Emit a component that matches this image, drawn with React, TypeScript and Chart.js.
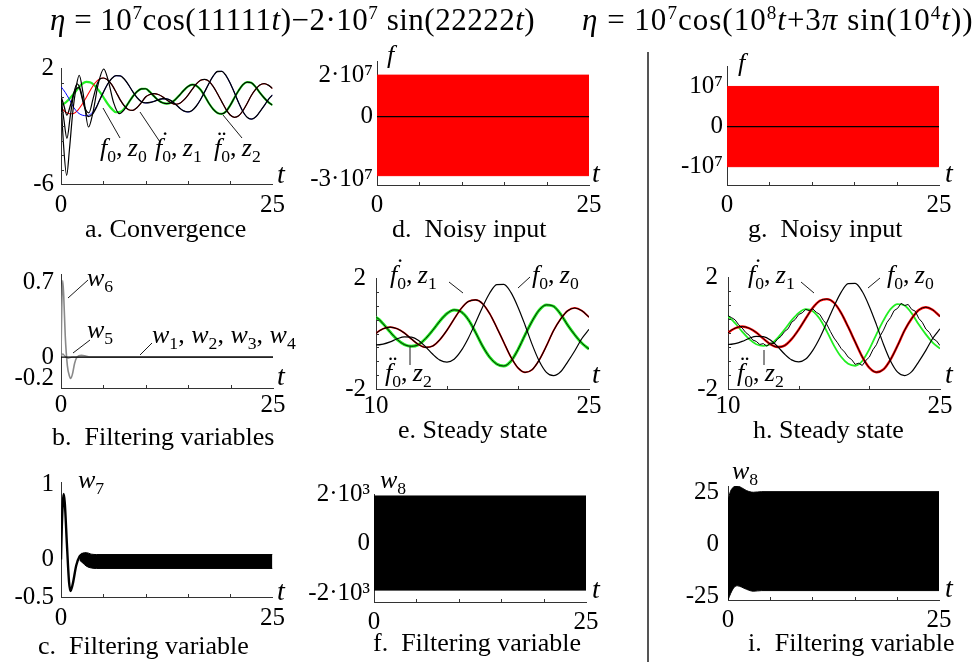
import React, { useEffect, useRef } from "react";
import { Chart, registerables } from "chart.js";

Chart.register(...registerables);

const SERIF = "'Liberation Serif', 'Times New Roman', Times, serif";
const AXIS = "#333";
const RED = "#ff0000";
const GREEN = "#22ee22";
const BLUE = "#0000ff";
const GRAY = "#8a8a8a";

// ---------- data ----------
// time grid, step 0.5
const T = [0, 0.5, 1, 1.5, 2, 2.5, 3, 3.5, 4, 4.5, 5, 5.5, 6, 6.5, 7, 7.5, 8, 8.5, 9, 9.5, 10, 10.5, 11, 11.5, 12, 12.5, 13, 13.5, 14, 14.5, 15, 15.5, 16, 16.5, 17, 17.5, 18, 18.5, 19, 19.5, 20, 20.5, 21, 21.5, 22, 22.5, 23, 23.5, 24, 24.5, 25];
// f0
const F0 = [0.71, 0.32, -0.18, -0.72, -1.08, -1.25, -1.29, -1.18, -0.85, -0.3, 0.32, 0.88, 1.28, 1.47, 1.46, 1.22, 0.82, 0.35, -0.05, -0.32, -0.41, -0.38, -0.3, -0.19, -0.12, -0.13, -0.25, -0.48, -0.75, -0.96, -1.03, -0.93, -0.62, -0.17, 0.38, 0.95, 1.45, 1.76, 1.77, 1.48, 0.95, 0.3, -0.4, -1.0, -1.4, -1.52, -1.38, -1.02, -0.62, -0.18, 0.15];
// first derivative of f0
const F1 = [-0.75, -1.02, -1.16, -1.14, -0.9, -0.5, -0.02, 0.5, 0.95, 1.23, 1.31, 1.18, 0.85, 0.35, -0.2, -0.62, -0.88, -0.92, -0.72, -0.38, 0.0, 0.17, 0.23, 0.17, 0.02, -0.2, -0.4, -0.5, -0.45, -0.22, 0.12, 0.52, 0.9, 1.15, 1.21, 1.08, 0.72, 0.22, -0.32, -0.85, -1.24, -1.4, -1.3, -0.95, -0.45, 0.1, 0.52, 0.82, 0.92, 0.82, 0.59];
// second derivative of f0
const F2 = [-0.55, -0.4, -0.12, 0.22, 0.58, 0.9, 1.04, 1.0, 0.78, 0.42, 0.0, -0.45, -0.82, -1.05, -1.03, -0.78, -0.38, 0.05, 0.38, 0.56, 0.57, 0.35, 0.05, -0.22, -0.4, -0.46, -0.4, -0.18, 0.12, 0.45, 0.72, 0.85, 0.78, 0.5, 0.05, -0.45, -0.85, -1.1, -1.17, -1.0, -0.58, -0.05, 0.45, 0.85, 1.03, 0.98, 0.7, 0.3, -0.05, -0.35, -0.56];

// transients of the observer (t, value), before they merge with f0, f0', f0''
const Z0_EARLY: [number, number][] = [[0, 0.05], [0.35, -0.6], [0.7, -1.25], [1.1, -0.6], [1.6, 0.4], [2.1, 0.65], [2.6, -0.3], [3.2, -1.35], [3.7, -1.2], [4.2, -0.7]];
const Z1_EARLY: [number, number][] = [[0, 0], [0.35, -1.6], [0.7, -2.85], [1.1, -1.3], [1.5, 0.2], [1.9, 0.9], [2.3, 0.5], [2.8, -0.7], [3.3, -1.1], [3.8, -0.1], [4.3, 0.95], [4.7, 1.28]];
const Z2_EARLY: [number, number][] = [[0, -0.1], [0.3, -3.3], [0.67, -5.4], [1.0, -3.6], [1.4, -1.0], [1.8, 0.7], [2.15, 1.5], [2.6, 0.3], [3.25, -2.07], [3.8, -1.0], [4.4, 0.9], [5.05, 1.93], [5.6, 1.1], [6.2, -0.35], [6.9, -1.15], [7.5, -0.85]];

// noisy estimate z2 of panel h, step 0.25
const TQ = [10, 10.25, 10.5, 10.75, 11, 11.25, 11.5, 11.75, 12, 12.25, 12.5, 12.75, 13, 13.25, 13.5, 13.75, 14, 14.25, 14.5, 14.75, 15, 15.25, 15.5, 15.75, 16, 16.25, 16.5, 16.75, 17, 17.25, 17.5, 17.75, 18, 18.25, 18.5, 18.75, 19, 19.25, 19.5, 19.75, 20, 20.25, 20.5, 20.75, 21, 21.25, 21.5, 21.75, 22, 22.25, 22.5, 22.75, 23, 23.25, 23.5, 23.75, 24, 24.25, 24.5, 24.75, 25];
const Z2H = [0.62, 0.55, 0.47, 0.3, 0.18, 0.02, -0.08, -0.25, -0.3, -0.41, -0.38, -0.47, -0.36, -0.38, -0.22, -0.12, 0.05, 0.15, 0.38, 0.48, 0.66, 0.72, 0.84, 0.8, 0.86, 0.74, 0.66, 0.45, 0.3, 0.05, -0.18, -0.35, -0.55, -0.68, -0.86, -0.95, -1.12, -1.08, -1.16, -0.98, -0.86, -0.6, -0.42, -0.12, 0.1, 0.38, 0.55, 0.8, 0.88, 1.06, 0.98, 1.02, 0.84, 0.78, 0.52, 0.38, 0.14, 0.02, -0.2, -0.28, -0.45];

// filtering variables
const W6: [number, number][] = [[0, 0], [0.08, 0.42], [0.2, 0.72], [0.32, 0.58], [0.5, 0.2], [0.75, -0.08], [1.0, -0.18], [1.15, -0.2], [1.35, -0.16], [1.6, -0.06], [1.9, 0.0], [2.4, 0.016], [2.9, 0.01], [3.5, 0.0], [25, 0]];
const W5: [number, number][] = [[0, 0], [0.2, 0.03], [0.45, 0.01], [0.8, -0.012], [1.3, 0.0], [25, 0]];
const W1_4: [number, number][] = [[0, 0], [25, 0]];
const W7: [number, number][] = [[0, 0], [0.1, 0.45], [0.32, 0.87], [0.45, 0.75], [0.7, 0.2], [0.95, -0.3], [1.12, -0.42], [1.4, -0.32], [1.8, -0.08], [2.2, 0.04], [2.6, 0.08]];
const W7_UP: [number, number][] = [[2.2, 0.02], [2.6, 0.085], [3.0, 0.09], [3.6, 0.07], [4.2, 0.065], [25, 0.065]];
const W7_LO: [number, number][] = [[2.2, -0.01], [2.6, -0.05], [3.0, -0.09], [3.6, -0.115], [4.2, -0.12], [25, -0.12]];
const W8F_UP: [number, number][] = [[0, 1920], [25, 1920]];
const W8F_LO: [number, number][] = [[0, -1880], [25, -1880]];
const W8I_UP: [number, number][] = [[0, 21], [0.3, 25.5], [0.7, 27.6], [1.1, 28], [1.6, 27.2], [2.2, 25.8], [3.0, 25.0], [4.0, 25.3], [25, 25.3]];
const W8I_LO: [number, number][] = [[0, -26.5], [0.3, -23.5], [0.7, -20.6], [1.1, -19.7], [1.6, -20.3], [2.2, -21.4], [3.0, -22.3], [4.0, -22.0], [25, -22.0]];

// noisy inputs (envelopes of the very fast signal) and the true signal
const ETA1_UP: [number, number][] = [[0, 2e7], [25, 2e7]];
const ETA1_LO: [number, number][] = [[0, -2.84e7], [25, -2.84e7]];
const ETA2_UP: [number, number][] = [[0, 1e7], [25, 1e7]];
const ETA2_LO: [number, number][] = [[0, -1e7], [25, -1e7]];
const F_ZERO: [number, number][] = [[0, 0], [25, 0]];

// tick labels
const X_TICKS_0_25: [number, string][] = [[0, "0"], [25, "25"]];
const X_TICKS_10_25: [number, string][] = [[10, "10"], [25, "25"]];
const X_MARKS_0_25 = [5, 10, 15, 20];
const X_MARKS_10_25 = [15, 20];

// ---------- helpers ----------
const pairs = (a: [number, number][]) => a.map(([x, y]) => ({ x, y }));
const pts = (xs: number[], ys: number[]) => xs.map((x, i) => ({ x, y: ys[i] }));
const joinAfter = (early: [number, number][], xs: number[], ys: number[]) => {
  const last = early[early.length - 1][0];
  return [...pairs(early), ...pts(xs, ys).filter((p) => p.x > last)];
};
const ln = (data: any[], color: string, width: number, extra: any = {}) => ({
  data,
  borderColor: color,
  borderWidth: width,
  pointRadius: 0,
  fill: false,
  cubicInterpolationMode: "monotone",
  ...extra,
});
const band = (up: [number, number][], lo: [number, number][], color: string) => [
  { data: pairs(up), borderColor: color, backgroundColor: color, borderWidth: 1, pointRadius: 0, fill: "+1", cubicInterpolationMode: "monotone" },
  { data: pairs(lo), borderColor: color, borderWidth: 1, pointRadius: 0, fill: false, cubicInterpolationMode: "monotone" },
];

const innerTicks = {
  id: "innerTicks",
  afterDraw(chart: any, _args: any, opts: any) {
    const { ctx, chartArea, scales } = chart;
    ctx.save();
    ctx.strokeStyle = AXIS;
    ctx.lineWidth = 1;
    (opts.x || []).forEach((v: number) => {
      const px = Math.round(scales.x.getPixelForValue(v)) + 0.5;
      ctx.beginPath();
      ctx.moveTo(px, chartArea.bottom);
      ctx.lineTo(px, chartArea.bottom - 3);
      ctx.stroke();
    });
    (opts.y || []).forEach((v: number) => {
      const py = Math.round(scales.y.getPixelForValue(v)) + 0.5;
      ctx.beginPath();
      ctx.moveTo(chartArea.left, py);
      ctx.lineTo(chartArea.left + 3, py);
      ctx.stroke();
    });
    ctx.restore();
  },
};

type Panel = {
  id: string;
  L: number; T: number; R: number; B: number;
  xMin: number; xMax: number; yMin: number; yMax: number;
  xTicks: [number, string][]; yTicks: [number, string][];
  xMarks: number[]; yMarks: number[];
  xPad: number; yPad: number; yW: number;
  datasets: any[];
};

const PAD_T = 18;
const PAD_R = 18;
const X_H = 44;

const lookup = (list: [number, string][], v: number) => {
  const f = list.find(([k]) => Math.abs(k - v) < 1e-6 * Math.max(1, Math.abs(k)));
  return f ? f[1] : "";
};

function PanelChart({ p }: { p: Panel }) {
  const ref = useRef<HTMLCanvasElement>(null);
  const W = p.yW + (p.R - p.L) + PAD_R;
  const H = PAD_T + (p.B - p.T) + X_H;
  useEffect(() => {
    const chart = new Chart(ref.current as HTMLCanvasElement, {
      type: "line",
      data: { datasets: p.datasets },
      options: {
        responsive: false,
        animation: false,
        devicePixelRatio: 1,
        events: [],
        layout: { padding: { top: PAD_T, right: PAD_R, left: 0, bottom: 0 } },
        plugins: {
          legend: { display: false },
          tooltip: { enabled: false },
          innerTicks: { x: p.xMarks, y: p.yMarks },
        } as any,
        scales: {
          x: {
            type: "linear",
            min: p.xMin,
            max: p.xMax,
            afterBuildTicks: (s: any) => {
              s.ticks = p.xTicks.map(([v]) => ({ value: v }));
            },
            afterFit: (s: any) => {
              s.height = X_H;
            },
            ticks: {
              autoSkip: false,
              maxRotation: 0,
              minRotation: 0,
              padding: p.xPad,
              color: "#000",
              font: { family: SERIF, size: 25 },
              callback: (v: any) => lookup(p.xTicks, Number(v)),
            },
            grid: { display: false, drawTicks: false },
            border: { display: true, color: AXIS, width: 1 },
          },
          y: {
            type: "linear",
            min: p.yMin,
            max: p.yMax,
            afterBuildTicks: (s: any) => {
              s.ticks = p.yTicks.map(([v]) => ({ value: v }));
            },
            afterFit: (s: any) => {
              s.width = p.yW;
            },
            ticks: {
              autoSkip: false,
              padding: p.yPad,
              color: "#000",
              font: { family: SERIF, size: 25 },
              callback: (v: any) => lookup(p.yTicks, Number(v)),
            },
            grid: { display: false, drawTicks: false },
            border: { display: true, color: AXIS, width: 1 },
          },
        },
      } as any,
      plugins: [innerTicks as any],
    });
    return () => chart.destroy();
  }, []);
  return (
    <canvas
      ref={ref}
      width={W}
      height={H}
      style={{ position: "absolute", left: p.L - p.yW, top: p.T - PAD_T, width: W, height: H }}
    />
  );
}

// ---------- text helpers ----------
const Txt = ({ x, base, size, children, style }: any) => (
  <div
    style={{
      position: "absolute",
      left: x,
      top: base - size * 0.8375,
      fontSize: size,
      lineHeight: 1,
      fontFamily: SERIF,
      whiteSpace: "nowrap",
      color: "#000",
      ...style,
    }}
  >
    {children}
  </div>
);
const Sub = ({ children }: any) => (
  <span style={{ fontSize: "0.68em", position: "relative", top: "0.32em", fontStyle: "normal" }}>{children}</span>
);
const Sup = ({ children }: any) => (
  <span style={{ fontSize: "0.62em", position: "relative", top: "-0.55em" }}>{children}</span>
);
const Fd = ({ n }: { n: number }) => (
  <span style={{ position: "relative", display: "inline-block" }}>
    <i>f</i>
    <span style={{ position: "absolute", left: n === 1 ? "0.22em" : "0.13em", top: "-0.28em", fontStyle: "normal" }}>
      {n === 1 ? "\u02D9" : "\u00A8"}
    </span>
  </span>
);
const Lbl = ({ d, k }: { d: number; k: number }) => (
  <>
    {d === 0 ? <i>f</i> : <Fd n={d} />}
    <Sub>0</Sub>
    {",\u2009"}
    <i>z</i>
    <Sub>{k}</Sub>
  </>
);
const Wn = ({ n }: { n: number }) => (
  <>
    <i>w</i>
    <Sub>{n}</Sub>
  </>
);

export default function App() {
  const z0 = joinAfter(Z0_EARLY, T, F0);
  const z1 = joinAfter(Z1_EARLY, T, F1);
  const z2 = joinAfter(Z2_EARLY, T, F2);
  const f0 = pts(T, F0);
  const f1 = pts(T, F1);
  const f2 = pts(T, F2);

  const panels: Panel[] = [
    {
      id: "a", L: 61, T: 64, R: 273, B: 184, xMin: 0, xMax: 25, yMin: -6, yMax: 2,
      xTicks: X_TICKS_0_25, yTicks: [[2, "2"], [-6, "-6"]], xMarks: X_MARKS_0_25, yMarks: [-5, -4, -3, -2, -1, 0, 1],
      xPad: 6, yPad: 7, yW: 58,
      datasets: [
        ln(z0, "#000", 1.3), ln(z1, "#000", 1.2), ln(z2, "#000", 1.2),
        ln(f0, BLUE, 1.0), ln(f1, RED, 1.1), ln(f2, GREEN, 2.2),
      ],
    },
    {
      id: "b", L: 61, T: 270, R: 273, B: 388, xMin: 0, xMax: 25, yMin: -0.291, yMax: 0.782,
      xTicks: X_TICKS_0_25, yTicks: [[0.7, "0.7"], [0, "0"], [-0.2, "-0.2"]], xMarks: X_MARKS_0_25, yMarks: [],
      xPad: 2.5, yPad: 7, yW: 58,
      datasets: [ln(pairs(W1_4), "#000", 1.2), ln(pairs(W6), GRAY, 1.6), ln(pairs(W5), GRAY, 1.3)],
    },
    {
      id: "c", L: 61, T: 478, R: 273, B: 597, xMin: 0, xMax: 25, yMin: -0.5, yMax: 1.03,
      xTicks: X_TICKS_0_25, yTicks: [[1, "1"], [0, "0"], [-0.5, "-0.5"]], xMarks: X_MARKS_0_25, yMarks: [],
      xPad: 6, yPad: 7, yW: 58,
      datasets: [ln(pairs(W7), "#000", 2.4), ...band(W7_UP, W7_LO, "#000")],
    },
    {
      id: "d", L: 377, T: 60, R: 589, B: 185, xMin: 0, xMax: 25, yMin: -3.29e7, yMax: 2.68e7,
      xTicks: X_TICKS_0_25, yTicks: [[2e7, "2·10⁷"], [0, "0"], [-3e7, "-3·10⁷"]], xMarks: X_MARKS_0_25, yMarks: [],
      xPad: 5, yPad: 4, yW: 80,
      datasets: [ln(pairs(F_ZERO), "#000", 1.2), ...band(ETA1_UP, ETA1_LO, RED)],
    },
    {
      id: "e", L: 376, T: 271, R: 589, B: 389, xMin: 10, xMax: 25, yMin: -2, yMax: 2,
      xTicks: X_TICKS_10_25, yTicks: [[2, "2"], [-2, "-2"]], xMarks: X_MARKS_10_25, yMarks: [-1.5, -1, -0.5, 0, 0.5, 1, 1.5],
      xPad: 2, yPad: 10, yW: 70,
      datasets: [
        ln(f0, "#000", 1.2), ln(z1, "#000", 1.1), ln(z2, "#000", 0.9),
        ln(f1, RED, 1.7), ln(f2, GREEN, 3.0),
      ],
    },
    {
      id: "f", L: 374, T: 493, R: 586, B: 602, xMin: 0, xMax: 25, yMin: -2360, yMax: 2000,
      xTicks: X_TICKS_0_25, yTicks: [[2000, "2·10³"], [0, "0"], [-2000, "-2·10³"]], xMarks: X_MARKS_0_25, yMarks: [],
      xPad: 5, yPad: 4, yW: 80,
      datasets: [...band(W8F_UP, W8F_LO, "#000")],
    },
    {
      id: "g", L: 727, T: 65, R: 939, B: 185, xMin: 0, xMax: 25, yMin: -1.457e7, yMax: 1.51e7,
      xTicks: X_TICKS_0_25, yTicks: [[1e7, "10⁷"], [0, "0"], [-1e7, "-10⁷"]], xMarks: X_MARKS_0_25, yMarks: [],
      xPad: 5, yPad: 4, yW: 70,
      datasets: [ln(pairs(F_ZERO), "#000", 1.2), ...band(ETA2_UP, ETA2_LO, RED)],
    },
    {
      id: "h", L: 728, T: 270, R: 940, B: 389, xMin: 10, xMax: 25, yMin: -2, yMax: 2,
      xTicks: X_TICKS_10_25, yTicks: [[2, "2"], [-2, "-2"]], xMarks: X_MARKS_10_25, yMarks: [-1.5, -1, -0.5, 0, 0.5, 1, 1.5],
      xPad: 2, yPad: 10, yW: 70,
      datasets: [
        ln(pts(TQ, Z2H), "#000", 1, { cubicInterpolationMode: "default", tension: 0 }),
        ln(f0, "#000", 1.2), ln(z1, "#000", 1),
        ln(f1, RED, 2.4), ln(f2, GREEN, 1.8),
      ],
    },
    {
      id: "i", L: 728, T: 480, R: 939, B: 600, xMin: 0, xMax: 25, yMin: -26.5, yMax: 28,
      xTicks: X_TICKS_0_25, yTicks: [[25, "25"], [0, "0"], [-25, "-25"]], xMarks: X_MARKS_0_25, yMarks: [],
      xPad: 5, yPad: 9, yW: 70,
      datasets: [...band(W8I_UP, W8I_LO, "#000")],
    },
  ];

  const tLabels: [number, number][] = [
    [277, 183], [277, 385], [277, 600], [592, 182], [592, 383], [592, 598], [945, 182], [945, 383], [945, 597],
  ];
  const leaders: [number, number, number, number][] = [
    [120, 138, 103, 108], [160, 142, 140, 112], [242, 138, 223, 115],
    [68, 298, 88, 280], [73, 353, 90, 340], [140, 355, 152, 343],
    [449, 282, 463, 293], [530, 277, 518, 288], [410, 347, 410, 365],
    [801, 282, 814, 293], [880, 278, 868, 288], [764, 350, 764, 365],
  ];

  return (
    <div style={{ position: "absolute", left: 0, top: 0, width: 973, height: 668, background: "#fff", overflow: "hidden" }}>
      {panels.map((p) => (
        <PanelChart key={p.id} p={p} />
      ))}

      {/* separator */}
      <div style={{ position: "absolute", left: 647, top: 52, width: 1.5, height: 610, background: "#555" }} />

      {/* leader lines */}
      <svg width={973} height={668} style={{ position: "absolute", left: 0, top: 0, pointerEvents: "none" }}>
        {leaders.map(([x1, y1, x2, y2], i) => (
          <line key={i} x1={x1} y1={y1} x2={x2} y2={y2} stroke="#000" strokeWidth={0.9} />
        ))}
      </svg>

      {/* titles */}
      <Txt x={50} base={30} size={31} style={{ letterSpacing: "0.5px" }}>
        <i>η</i> = 10<Sup>7</Sup>cos(11111<i>t</i>)−2·10<Sup>7</Sup> sin(22222<i>t</i>)
      </Txt>
      <Txt x={582} base={30} size={31} style={{ letterSpacing: "1px" }}>
        <i>η</i> = 10<Sup>7</Sup>cos(10<Sup>8</Sup><i>t</i>+3<i>π</i> sin(10<Sup>4</Sup><i>t</i>))
      </Txt>

      {/* axis names */}
      {tLabels.map(([x, b], i) => (
        <Txt key={i} x={x} base={b} size={28}>
          <i>t</i>
        </Txt>
      ))}
      <Txt x={387} base={64} size={26}><i>f</i></Txt>
      <Txt x={738} base={72} size={26}><i>f</i></Txt>
      <Txt x={78} base={489} size={26}><Wn n={7} /></Txt>
      <Txt x={380} base={489} size={26}><Wn n={8} /></Txt>
      <Txt x={732} base={480} size={26}><Wn n={8} /></Txt>

      {/* panel b labels */}
      <Txt x={87} base={287} size={26}><Wn n={6} /></Txt>
      <Txt x={87} base={339} size={26}><Wn n={5} /></Txt>
      <Txt x={152} base={344} size={26}>
        <Wn n={1} />, <Wn n={2} />, <Wn n={3} />, <Wn n={4} />
      </Txt>

      {/* curve labels */}
      <Txt x={100} base={157} size={26}><Lbl d={0} k={0} /></Txt>
      <Txt x={155} base={157} size={26}><Lbl d={1} k={1} /></Txt>
      <Txt x={214} base={157} size={26}><Lbl d={2} k={2} /></Txt>

      <Txt x={390} base={284} size={26}><Lbl d={1} k={1} /></Txt>
      <Txt x={532} base={284} size={26}><Lbl d={0} k={0} /></Txt>
      <Txt x={385} base={382} size={26}><Lbl d={2} k={2} /></Txt>

      <Txt x={748} base={284} size={26}><Lbl d={1} k={1} /></Txt>
      <Txt x={887} base={284} size={26}><Lbl d={0} k={0} /></Txt>
      <Txt x={737} base={382} size={26}><Lbl d={2} k={2} /></Txt>

      {/* captions */}
      <Txt x={85} base={238} size={26}>a. Convergence</Txt>
      <Txt x={392} base={238} size={26}>d.&nbsp; Noisy input</Txt>
      <Txt x={748} base={238} size={26}>g.&nbsp; Noisy input</Txt>
      <Txt x={52} base={446} size={26}>b.&nbsp; Filtering variables</Txt>
      <Txt x={398} base={439} size={26}>e. Steady state</Txt>
      <Txt x={753} base={439} size={26}>h. Steady state</Txt>
      <Txt x={38} base={655} size={26}>c.&nbsp; Filtering variable</Txt>
      <Txt x={373} base={652} size={26}>f.&nbsp; Filtering variable</Txt>
      <Txt x={748} base={652} size={26}>i.&nbsp; Filtering variable</Txt>
    </div>
  );
}
